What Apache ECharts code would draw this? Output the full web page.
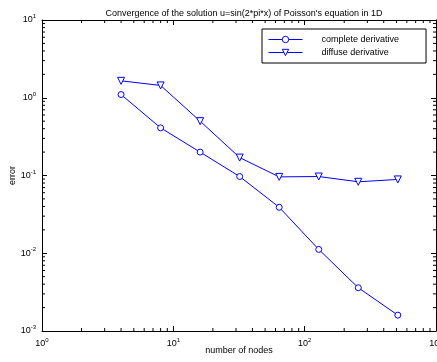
<!DOCTYPE html>
<html>
<head>
<meta charset="utf-8">
<script src="https://cdn.jsdelivr.net/npm/echarts@6/dist/echarts.min.js"></script>
<style>
html,body{margin:0;padding:0;background:#fff;}
#main{width:437px;height:362px;}
</style>
</head>
<body>
<div id="main"></div>
<script>
// number of nodes and the errors of both methods
var nodes = [4, 8, 16, 32, 64, 128, 256, 512];
var completeErr = [1.1, 0.41, 0.20, 0.097, 0.039, 0.0112, 0.0036, 0.0016];
var diffuseErr = [1.65, 1.44, 0.50, 0.17, 0.096, 0.097, 0.083, 0.089];
var seriesNames = ['complete derivative', 'diffuse derivative'];
// axis ranges (decades) and minor tick multipliers
var xRange = [1, 1000];
var yRange = [0.001, 10];
var minorMult = [2, 3, 4, 5, 6, 7, 8, 9];

var FONT = 'Liberation Sans';
var BLUE = '#0000ff';
var myChart = echarts.init(document.getElementById('main'));

function pow10Label(v) {
    var e = Math.round(Math.log(v) / Math.LN10);
    return '{b|10}{s|' + e + '}';
}
var labelRich = {
    b: {fontSize: 9, fontFamily: FONT, color: '#000'},
    s: {fontSize: 6, fontFamily: FONT, color: '#000', padding: [0, 0, 7, 0]}
};

function pairs(xs, ys) {
    var out = [];
    for (var i = 0; i < xs.length; i++) out.push([xs[i], ys[i]]);
    return out;
}

// minor tick values between the decades of a range
function minorValues(range) {
    var out = [];
    for (var d = range[0]; d < range[1]; d *= 10) {
        for (var j = 0; j < minorMult.length; j++) out.push(minorMult[j] * d);
    }
    return out;
}

function logAxis(pos, range, showLabel) {
    return {
        type: 'log', logBase: 10, position: pos, min: range[0], max: range[1],
        axisLine: {show: true, onZero: false, lineStyle: {color: '#000', width: 1}},
        axisTick: {show: true, inside: true, length: 5, lineStyle: {color: '#000'}},
        splitLine: {show: false},
        axisLabel: {show: showLabel, formatter: pow10Label, rich: labelRich, margin: 6}
    };
}

var xBottom = logAxis('bottom', xRange, true);
xBottom.name = 'number of nodes';
xBottom.nameLocation = 'middle';
xBottom.nameGap = 15;
xBottom.nameMoveOverlap = false;
xBottom.nameTextStyle = {fontSize: 9, fontFamily: FONT, color: '#000'};
var yLeft = logAxis('left', yRange, true);
yLeft.name = 'error';
yLeft.nameLocation = 'middle';
yLeft.nameGap = 25;
yLeft.nameMoveOverlap = false;
yLeft.nameTextStyle = {fontSize: 9, fontFamily: FONT, color: '#000'};

var xMinor = minorValues(xRange).map(function (v) { return [v, yRange[0]]; });
var yMinor = minorValues(yRange).map(function (v) { return [xRange[0], v]; });

function tickLine(x1, y1, x2, y2) {
    return {type: 'line', shape: {x1: x1, y1: y1, x2: x2, y2: y2},
        style: {stroke: '#000', lineWidth: 1}};
}

var option = {
    animation: false,
    backgroundColor: '#fff',
    textStyle: {fontFamily: FONT},
    title: {
        text: "Convergence of the solution u=sin(2*pi*x) of Poisson's equation in 1D",
        left: 239, top: 4, textAlign: 'center',
        textStyle: {fontSize: 9, fontWeight: 'normal', fontFamily: FONT, color: '#000'}
    },
    legend: {
        orient: 'vertical', left: 262, top: 29,
        data: seriesNames,
        itemWidth: 34, itemHeight: 8, itemGap: 4,
        padding: [6, 27, 6, 6],
        borderColor: '#000', borderWidth: 1, backgroundColor: '#fff',
        lineStyle: {width: 1},
        itemStyle: {borderWidth: 1},
        textStyle: {fontSize: 9, fontFamily: FONT, color: '#000', padding: [0, 0, 0, 14]}
    },
    grid: {left: 42, top: 20, right: 1, bottom: 31, containLabel: false, outerBoundsMode: 'none'},
    xAxis: [xBottom, logAxis('top', xRange, false)],
    yAxis: [yLeft, logAxis('right', yRange, false)],
    series: [
        {
            name: seriesNames[0], type: 'line', xAxisIndex: 0, yAxisIndex: 0,
            data: pairs(nodes, completeErr),
            symbol: 'circle', symbolSize: 6,
            lineStyle: {color: BLUE, width: 1},
            itemStyle: {color: '#fff', borderColor: BLUE, borderWidth: 1}
        },
        {
            name: seriesNames[1], type: 'line', xAxisIndex: 0, yAxisIndex: 0,
            data: pairs(nodes, diffuseErr),
            symbol: 'triangle', symbolRotate: 180, symbolSize: 7,
            lineStyle: {color: BLUE, width: 1},
            itemStyle: {color: '#fff', borderColor: BLUE, borderWidth: 1}
        },
        {
            // minor ticks on bottom and top axes
            type: 'custom', xAxisIndex: 0, yAxisIndex: 0, silent: true, clip: false,
            data: xMinor, z: 3,
            renderItem: function (params, api) {
                var b = api.coord([api.value(0), yRange[0]]);
                var t = api.coord([api.value(0), yRange[1]]);
                return {type: 'group', children: [
                    tickLine(b[0], b[1], b[0], b[1] - 3),
                    tickLine(t[0], t[1], t[0], t[1] + 3)
                ]};
            }
        },
        {
            // minor ticks on left and right axes
            type: 'custom', xAxisIndex: 0, yAxisIndex: 0, silent: true, clip: false,
            data: yMinor, z: 3,
            renderItem: function (params, api) {
                var l = api.coord([xRange[0], api.value(1)]);
                var r = api.coord([xRange[1], api.value(1)]);
                return {type: 'group', children: [
                    tickLine(l[0], l[1], l[0] + 3, l[1]),
                    tickLine(r[0], r[1], r[0] - 3, r[1])
                ]};
            }
        }
    ]
};
myChart.setOption(option);
</script>
</body>
</html>
